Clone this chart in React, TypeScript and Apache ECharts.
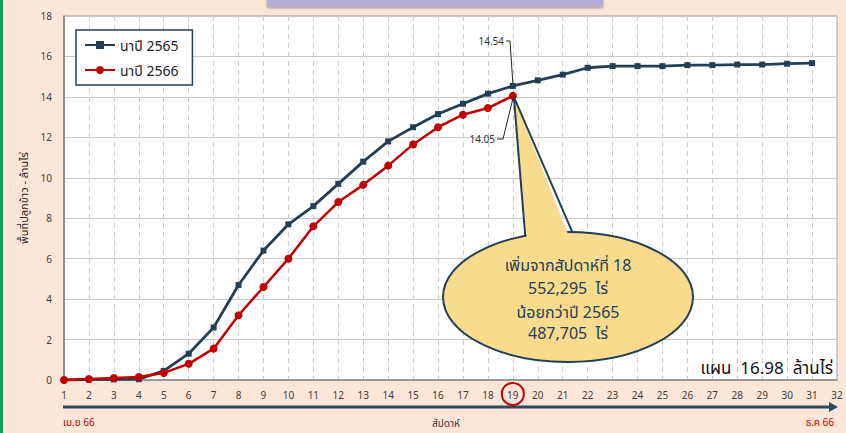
import React, { useEffect, useRef } from "react";
import * as echarts from "echarts";

const weeks = [1,2,3,4,5,6,7,8,9,10,11,12,13,14,15,16,17,18,19,20,21,22,23,24,25,26,27,28,29,30,31];
const y2565 = [0,0.02,0.03,0.04,0.45,1.3,2.6,4.7,6.4,7.7,8.6,9.7,10.8,11.8,12.5,13.15,13.66,14.16,14.54,14.82,15.1,15.44,15.52,15.52,15.52,15.57,15.57,15.6,15.6,15.64,15.67];
const y2566 = [0,0.05,0.1,0.15,0.35,0.8,1.55,3.2,4.6,6.0,7.6,8.8,9.65,10.6,11.65,12.5,13.12,13.45,14.05];
const seriesNames = ["นาปี 2565", "นาปี 2566"];
const xTicks = [1,32];
const yTicks = [0,18,2];

const DARK = "#243F55";
const RED = "#C00000";
const FONT = "'Noto Sans', 'Noto Sans Thai', 'DejaVu Sans', sans-serif";

export default function App() {
  const ref = useRef<HTMLDivElement>(null);
  useEffect(() => {
    document.body.style.margin = "0";
    document.body.style.background = "#FCE6D8";
    const chart = echarts.init(ref.current!, null, { renderer: "svg" });
    const option: any = {
      animation: false,
      backgroundColor: "#FCE6D8",
      textStyle: { fontFamily: FONT },
      grid: { left: 64, right: 9, top: 16, bottom: 53, show: true, backgroundColor: "#ffffff", borderColor: "#9a9a9a", borderWidth: 1 },
      legend: {
        orient: "vertical", left: 76, top: 30, itemWidth: 30, itemHeight: 10, itemGap: 11,
        padding: [8, 14, 8, 8], borderColor: DARK, borderWidth: 1.5, backgroundColor: "#ffffff",
        textStyle: { fontSize: 14, color: "#222", fontFamily: FONT },
        data: seriesNames,
      },
      xAxis: {
        type: "value", min: xTicks[0], max: xTicks[1], interval: 1,
        axisLine: { show: true, lineStyle: { color: "#8a8a8a", width: 1.5 } },
        axisTick: { show: false },
        axisLabel: { fontSize: 10, color: "#404040", margin: 10, fontFamily: FONT },
        splitLine: { show: true, lineStyle: { type: [5, 4], color: "#cccccc" } },
      },
      yAxis: {
        type: "value", min: yTicks[0], max: yTicks[1], interval: yTicks[2],
        name: "พื้นที่ปลูกข้าว - ล้านไร่", nameLocation: "middle", nameGap: 35, nameRotate: 90,
        nameTextStyle: { fontSize: 11, color: "#222", fontFamily: FONT },
        axisLine: { show: true, lineStyle: { color: "#7a7a7a", width: 1.5 } },
        axisTick: { show: false },
        axisLabel: { fontSize: 10, color: "#404040", margin: 12, fontFamily: FONT },
        splitLine: { show: true, lineStyle: { color: "#c8c8c8", width: 1 } },
      },
      series: [
        {
          name: seriesNames[0], type: "line", data: weeks.map((w, i) => [w, y2565[i]]),
          symbol: "rect", symbolSize: 6, lineStyle: { color: DARK, width: 2.8 }, itemStyle: { color: DARK }, z: 3,
        },
        {
          name: seriesNames[1], type: "line", data: y2566.map((v, i) => [weeks[i], v]),
          symbol: "circle", symbolSize: 8, lineStyle: { color: RED, width: 2.5 }, itemStyle: { color: RED }, z: 4,
        },
      ],
    };
    chart.setOption(option);

    const p65 = chart.convertToPixel({ gridIndex: 0 }, [19, y2565[18]]) as number[];
    const p66 = chart.convertToPixel({ gridIndex: 0 }, [19, y2566[18]]) as number[];
    const p19 = chart.convertToPixel({ gridIndex: 0 }, [19, 0]) as number[];
    const cx = 568, cy = 297, rx = 125, ry = 65;
    const ang = (deg: number) => [cx + rx * Math.cos(deg * Math.PI / 180), cy + ry * Math.sin(deg * Math.PI / 180)];
    const a1 = ang(-110), a2 = ang(-88);
    const tip = [p66[0] + 1, p66[1] + 1];
    const T = (y: number, text: string) => ({ type: "text", x: 568, y, style: { text, fill: DARK, fontSize: 16, fontFamily: FONT, align: "center", verticalAlign: "middle" }, z: 104 });

    chart.setOption({
      graphic: [
        { type: "rect", shape: { x: 0, y: 0, width: 3, height: 433 }, style: { fill: "#0F9D58" }, z: 100 },
        { type: "rect", shape: { x: 267, y: -2, width: 336, height: 9 }, style: { fill: "#B4AED6", shadowBlur: 3, shadowColor: "rgba(0,0,0,0.35)", shadowOffsetY: 1 }, z: 100 },
        { type: "line", shape: { x1: 63, y1: 407, x2: 830, y2: 407 }, style: { stroke: "#2E4A5E", lineWidth: 3 }, z: 100 },
        { type: "polygon", shape: { points: [[829, 402], [838, 407], [829, 412]] }, style: { fill: "#2E4A5E" }, z: 100 },
        { type: "text", x: 63, y: 422, style: { text: "เม.ย 66", fill: RED, fontSize: 10, fontFamily: FONT, verticalAlign: "middle" }, z: 100 },
        { type: "text", x: 834, y: 422, style: { text: "ธ.ค 66", fill: RED, fontSize: 10, fontFamily: FONT, align: "right", verticalAlign: "middle" }, z: 100 },
        { type: "text", x: 432, y: 423, style: { text: "สัปดาห์", fill: "#333", fontSize: 10, fontFamily: FONT, verticalAlign: "middle" }, z: 100 },
        { type: "circle", shape: { cx: p19[0], cy: 394, r: 11 }, style: { fill: "none", stroke: RED, lineWidth: 2 }, z: 100 },
        { type: "text", x: 504, y: 41, style: { text: "14.54", fill: "#333", fontSize: 10, fontFamily: FONT, align: "right", verticalAlign: "middle" }, z: 100 },
        { type: "polyline", shape: { points: [[506, 41], [510, 41], [p65[0], p65[1] - 3]] }, style: { stroke: "#222", lineWidth: 1, fill: "none" }, z: 100 },
        { type: "text", x: 495, y: 139, style: { text: "14.05", fill: "#333", fontSize: 10, fontFamily: FONT, align: "right", verticalAlign: "middle" }, z: 100 },
        { type: "polyline", shape: { points: [[497, 139], [503, 139], [p66[0], p66[1] + 3]] }, style: { stroke: "#222", lineWidth: 1, fill: "none" }, z: 100 },
        { type: "ellipse", shape: { cx, cy, rx, ry }, style: { fill: "#F8DB8C", stroke: DARK, lineWidth: 2 }, z: 101 },
        { type: "polygon", shape: { points: [tip, [a1[0] + 2, a1[1] + 8], [a2[0] - 2, a2[1] + 8]] }, style: { fill: "#F8DB8C" }, z: 102 },
        { type: "polyline", shape: { points: [a1, tip, a2] }, style: { stroke: DARK, lineWidth: 2, fill: "none" }, z: 103 },
        T(265, "เพิ่มจากสัปดาห์ที่ 18"),
        T(288, "552,295  ไร่"),
        T(312, "น้อยกว่าปี 2565"),
        T(333, "487,705  ไร่"),
        { type: "text", x: 833, y: 367, style: { text: "แผน  16.98  ล้านไร่", fill: "#111", fontSize: 17, fontFamily: FONT, align: "right", verticalAlign: "middle" }, z: 104 },
      ],
    });
    return () => chart.dispose();
  }, []);
  return <div ref={ref} style={{ width: 846, height: 433 }} />;
}
